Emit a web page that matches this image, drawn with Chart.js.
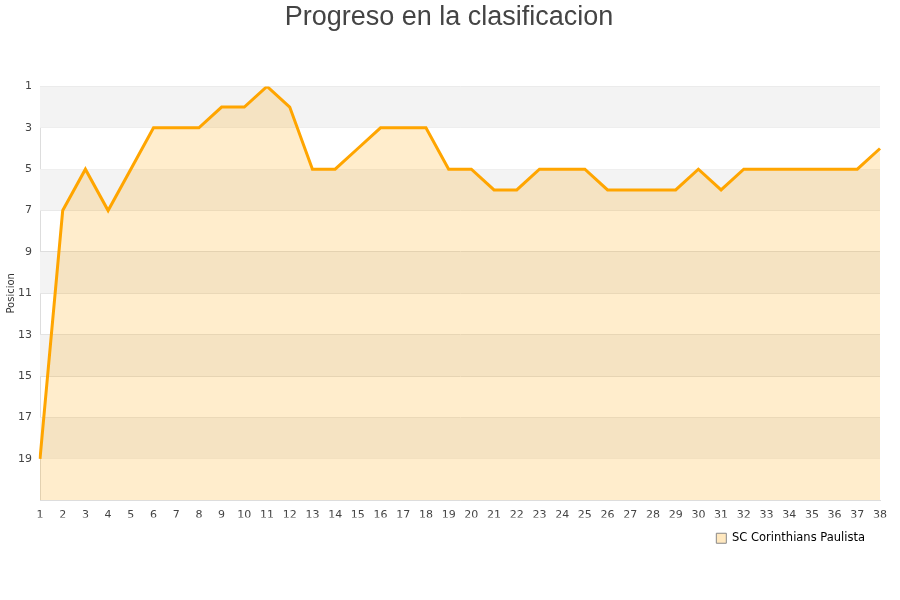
<!DOCTYPE html>
<html>
<head>
<meta charset="utf-8">
<script src="https://cdn.jsdelivr.net/npm/chart.js@4/dist/chart.umd.min.js"></script>
<style>
    html, body { margin: 0; padding: 0; background: #fff; }
    #wrap { width: 900px; height: 600px; }
</style>
</head>
<body>
<div id="wrap"><canvas id="progressChart"></canvas></div>
<script>
const jornadas = ['1','2','3','4','5','6','7','8','9','10','11','12','13','14','15','16','17','18','19','20',
    '21','22','23','24','25','26','27','28','29','30','31','32','33','34','35','36','37','38'];
const posiciones = [19, 7, 5, 7, 5, 3, 3, 3, 2, 2, 1, 2, 5, 5, 4, 3, 3, 3, 5, 5,
    6, 6, 5, 5, 5, 6, 6, 6, 6, 5, 6, 5, 5, 5, 5, 5, 5, 4];
const bandStarts = [1, 5, 9, 13, 17];
const teamName = 'SC Corinthians Paulista';

// alternating grey bands behind the area
const bandsPlugin = {
    id: 'bands',
    beforeDatasetsDraw(chart) {
        const ctx = chart.ctx;
        const y = chart.scales.y;
        const area = chart.chartArea;
        ctx.save();
        ctx.fillStyle = '#f3f3f3';
        bandStarts.forEach(function (v) {
            const top = y.getPixelForValue(v);
            const bottom = y.getPixelForValue(v + 2);
            ctx.fillRect(area.left, top, area.right - area.left, bottom - top);
        });
        ctx.restore();
    }
};

Chart.defaults.font.family = 'DejaVu Sans';
Chart.defaults.color = '#444';

const ctx = document.getElementById('progressChart').getContext('2d');
new Chart(ctx, {
    type: 'line',
    data: {
        labels: jornadas,
        datasets: [{
            label: teamName,
            data: posiciones,
            borderColor: '#ffa500',
            backgroundColor: 'rgba(255, 165, 0, 0.2)',
            borderWidth: 3,
            pointRadius: 0,
            tension: 0,
            fill: { value: 21 }
        }]
    },
    options: {
        responsive: true,
        maintainAspectRatio: false,
        animation: false,
        layout: { padding: { top: 0, right: 7, bottom: 46, left: 5 } },
        plugins: {
            title: {
                display: true,
                text: 'Progreso en la clasificacion',
                color: '#444',
                font: { family: 'Liberation Sans', size: 27, weight: 'normal' },
                padding: { top: 1, bottom: 53 }
            },
            legend: {
                position: 'bottom',
                align: 'end',
                fullSize: false,
                labels: {
                    boxWidth: 10,
                    boxHeight: 10,
                    padding: 15,
                    color: '#222',
                    font: { size: 11.5 },
                    generateLabels(chart) {
                        return [{
                            text: teamName,
                            fillStyle: 'rgba(255, 165, 0, 0.25)',
                            strokeStyle: '#888',
                            lineWidth: 1,
                            datasetIndex: 0
                        }];
                    }
                }
            },
            tooltip: { enabled: false }
        },
        scales: {
            x: {
                offset: false,
                afterFit(scale) { scale.height -= 12; },
                grid: { display: false, drawTicks: false },
                border: { color: '#ddd' },
                ticks: { autoSkip: false, maxRotation: 0, padding: 8, font: { size: 11 } }
            },
            y: {
                reverse: true,
                min: 1,
                max: 21,
                afterFit(scale) { scale.width = 35; },
                grid: { color: '#ddd', drawTicks: false },
                border: { color: '#ddd' },
                title: { display: true, text: 'Posicion', font: { size: 10 }, color: '#333', padding: 0 },
                ticks: {
                    stepSize: 2,
                    padding: 8,
                    font: { size: 11 },
                    callback: function (v) { return v <= 19 ? v : ''; }
                }
            },
            // empty spacer on the right so the plot stops at the same place
            ySpacer: {
                position: 'right',
                afterFit(scale) { scale.width = 13; },
                grid: { display: false, drawTicks: false },
                border: { display: false },
                ticks: { display: false }
            }
        }
    },
    plugins: [bandsPlugin]
});
</script>
</body>
</html>
